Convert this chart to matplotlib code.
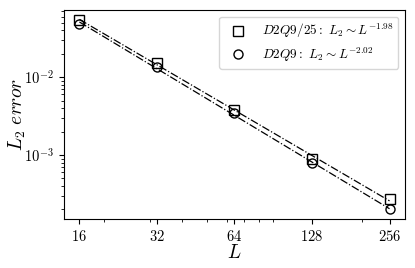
import matplotlib
matplotlib.use("Agg")
import matplotlib.pyplot as plt
import numpy as np

plt.rcParams['mathtext.fontset'] = 'cm'
plt.rcParams['font.family'] = 'serif'
plt.rcParams['font.serif'] = ['cmr10', 'DejaVu Serif']
plt.rcParams['axes.formatter.use_mathtext'] = True

L = [16, 32, 64, 128, 256]
err_d2q9_25 = [0.0545, 0.0150, 0.00380, 0.00090, 0.000272]
err_d2q9 = [0.0480, 0.0134, 0.00350, 0.00078, 0.000200]
labels = [r'$D2Q9/25:\ L_2 \sim L^{-1.98}$', r'$D2Q9:\ L_2 \sim L^{-2.02}$']
xticks = [16, 32, 64, 128, 256]

fig = plt.figure(figsize=(4.15, 2.68), dpi=100)
ax = fig.add_axes([0.154, 0.183, 0.822, 0.78])

Lx = np.array(L, dtype=float)
for err, mk, lab in zip([err_d2q9_25, err_d2q9], ['s', 'o'], labels):
    e = np.array(err)
    p = np.polyfit(np.log(Lx), np.log(e), 1)
    ax.plot(Lx, np.exp(np.polyval(p, np.log(Lx))), color='k', ls='-.', lw=0.9)
    ax.plot(Lx, e, mk, ms=6.5, mfc='none', mec='k', mew=1.0, label=lab)

ax.set_xscale('log')
ax.set_yscale('log')
ax.set_xticks(xticks)
ax.set_xticklabels(['$%d$' % v for v in xticks])
ax.tick_params(labelsize=10.5)
ax.set_xlabel('$L$', fontsize=14, labelpad=0)
ax.set_ylabel(r'$L_2\ error$', fontsize=14)
ax.yaxis.set_label_coords(-0.105, 0.5)
ax.legend(loc='upper right', fontsize=9.5, handletextpad=0.8, labelspacing=0.4)

fig.savefig('out.png', dpi=100)
